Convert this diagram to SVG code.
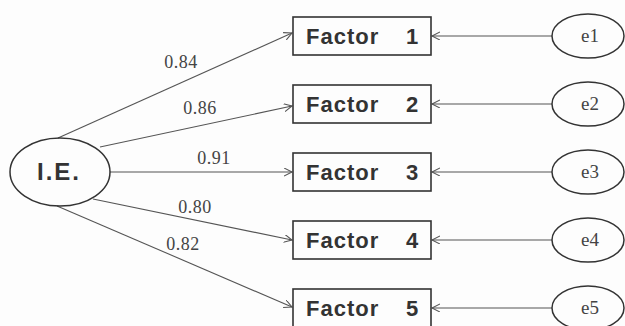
<svg xmlns="http://www.w3.org/2000/svg" width="625" height="326" viewBox="0 0 625 326">
<style>
.box{fill:none;stroke:#333;stroke-width:1.6}
.ell{fill:none;stroke:#333;stroke-width:1.5}
.ln{fill:none;stroke:#555;stroke-width:1.1;marker-end:url(#arr)}
.ft{font-family:"Liberation Sans",Arial,sans-serif;font-weight:bold;font-size:22px;letter-spacing:1px;fill:#333}
.ie{font-family:"Liberation Sans",Arial,sans-serif;font-weight:bold;font-size:24px;letter-spacing:2px;fill:#333}
.et{font-family:"Liberation Serif","Times New Roman",serif;font-size:19px;fill:#444}
.lb{font-family:"Liberation Serif","Times New Roman",serif;font-size:18px;letter-spacing:0.5px;fill:#444}
</style>
<defs>
<marker id="arr" markerWidth="10" markerHeight="10" refX="8" refY="4" orient="auto" markerUnits="userSpaceOnUse">
<path d="M0,0 L8,4 L0,8" fill="none" stroke="#555" stroke-width="1.1"/>
</marker>
</defs>
<rect width="625" height="326" fill="#fdfdfd"/>
<g id="connectors">
<line class="ln" x1="58" y1="138" x2="292" y2="33"/>
<line class="ln" x1="100" y1="147" x2="292" y2="106"/>
<line class="ln" x1="110" y1="172" x2="292" y2="172"/>
<line class="ln" x1="93" y1="199" x2="292" y2="240"/>
<line class="ln" x1="57" y1="206" x2="292" y2="307"/>
<line class="ln" x1="552" y1="36" x2="432" y2="36"/>
<line class="ln" x1="552" y1="104" x2="432" y2="104"/>
<line class="ln" x1="552" y1="172" x2="432" y2="172"/>
<line class="ln" x1="552" y1="240" x2="432" y2="240"/>
<line class="ln" x1="552" y1="308" x2="432" y2="308"/>
<text class="lb" x="181" y="68" text-anchor="middle">0.84</text>
<text class="lb" x="200" y="114" text-anchor="middle">0.86</text>
<text class="lb" x="214" y="164" text-anchor="middle">0.91</text>
<text class="lb" x="195" y="213" text-anchor="middle">0.80</text>
<text class="lb" x="183" y="250" text-anchor="middle">0.82</text>
</g>
<g id="ie">
<ellipse class="ell" cx="60" cy="172" rx="50" ry="34"/>
<text class="ie" x="59" y="180" text-anchor="middle">I.E.</text>
</g>
<g id="factor1">
<rect class="box" x="293" y="17" width="138" height="38"/>
<text class="ft" x="306" y="44">Factor <tspan x="406">1</tspan></text>
</g>
<g id="factor2">
<rect class="box" x="293" y="85" width="138" height="38"/>
<text class="ft" x="306" y="112">Factor <tspan x="406">2</tspan></text>
</g>
<g id="factor3">
<rect class="box" x="293" y="153" width="138" height="38"/>
<text class="ft" x="306" y="180">Factor <tspan x="406">3</tspan></text>
</g>
<g id="factor4">
<rect class="box" x="293" y="221" width="138" height="38"/>
<text class="ft" x="306" y="248">Factor <tspan x="406">4</tspan></text>
</g>
<g id="factor5">
<rect class="box" x="293" y="289" width="138" height="38"/>
<text class="ft" x="306" y="316">Factor <tspan x="406">5</tspan></text>
</g>
<g id="e1"><ellipse class="ell" cx="588" cy="36" rx="36" ry="22"/><text class="et" x="590" y="42" text-anchor="middle">e1</text></g>
<g id="e2"><ellipse class="ell" cx="588" cy="104" rx="36" ry="22"/><text class="et" x="590" y="110" text-anchor="middle">e2</text></g>
<g id="e3"><ellipse class="ell" cx="588" cy="172" rx="36" ry="22"/><text class="et" x="590" y="178" text-anchor="middle">e3</text></g>
<g id="e4"><ellipse class="ell" cx="588" cy="240" rx="36" ry="22"/><text class="et" x="590" y="246" text-anchor="middle">e4</text></g>
<g id="e5"><ellipse class="ell" cx="588" cy="308" rx="36" ry="22"/><text class="et" x="590" y="314" text-anchor="middle">e5</text></g>
</svg>
